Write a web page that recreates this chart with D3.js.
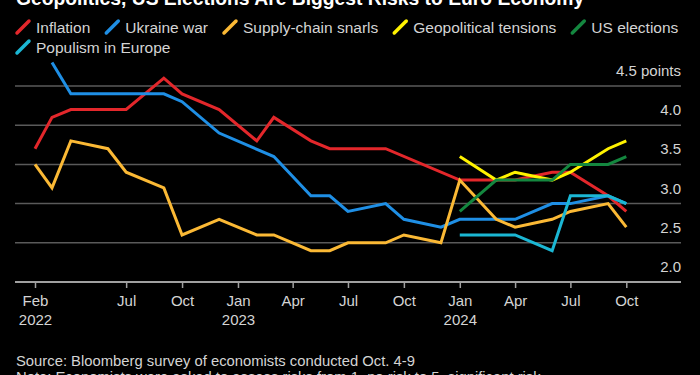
<!DOCTYPE html>
<html>
<head>
<meta charset="utf-8">
<script src="https://cdn.jsdelivr.net/npm/d3@7"></script>
<style>
  html, body { margin: 0; padding: 0; background: #000; }
  svg { display: block; font-family: "Liberation Sans", Arial, Helvetica, sans-serif; }
</style>
</head>
<body>
<div id="graphic"></div>
<script>
// survey months and scores (1 = no risk, 5 = significant risk)
var inflation = [
  ['2022-02', 3.7], ['2022-03', 4.1], ['2022-04', 4.2], ['2022-07', 4.2], ['2022-09', 4.6],
  ['2022-10', 4.4], ['2022-12', 4.2], ['2023-02', 3.8], ['2023-03', 4.1], ['2023-05', 3.8],
  ['2023-06', 3.7], ['2023-09', 3.7], ['2024-01', 3.3], ['2024-04', 3.3], ['2024-06', 3.4],
  ['2024-07', 3.4], ['2024-09', 3.1], ['2024-10', 2.9]
];
var ukraineWar = [
  ['2022-03', 4.8], ['2022-04', 4.4], ['2022-09', 4.4], ['2022-10', 4.3], ['2022-12', 3.9],
  ['2023-03', 3.6], ['2023-05', 3.1], ['2023-06', 3.1], ['2023-07', 2.9], ['2023-09', 3.0],
  ['2023-10', 2.8], ['2023-12', 2.7], ['2024-01', 2.8], ['2024-04', 2.8], ['2024-06', 3.0],
  ['2024-07', 3.0], ['2024-09', 3.1], ['2024-10', 3.0]
];
var supplyChain = [
  ['2022-02', 3.5], ['2022-03', 3.2], ['2022-04', 3.8], ['2022-06', 3.7], ['2022-07', 3.4],
  ['2022-09', 3.2], ['2022-10', 2.6], ['2022-12', 2.8], ['2023-02', 2.6], ['2023-03', 2.6],
  ['2023-05', 2.4], ['2023-06', 2.4], ['2023-07', 2.5], ['2023-09', 2.5], ['2023-10', 2.6],
  ['2023-12', 2.5], ['2024-01', 3.3], ['2024-03', 2.8], ['2024-04', 2.7], ['2024-06', 2.8],
  ['2024-07', 2.9], ['2024-09', 3.0], ['2024-10', 2.7]
];
var geopolitical = [
  ['2024-01', 3.6], ['2024-03', 3.3], ['2024-04', 3.4], ['2024-06', 3.3], ['2024-07', 3.4],
  ['2024-09', 3.7], ['2024-10', 3.8]
];
var usElections = [
  ['2024-01', 2.9], ['2024-03', 3.3], ['2024-04', 3.3], ['2024-06', 3.3], ['2024-07', 3.5],
  ['2024-09', 3.5], ['2024-10', 3.6]
];
var populism = [
  ['2024-01', 2.6], ['2024-04', 2.6], ['2024-06', 2.4], ['2024-07', 3.1], ['2024-09', 3.1],
  ['2024-10', 3.0]
];

var seriesNames = ['Inflation', 'Ukraine war', 'Supply-chain snarls', 'Geopolitical tensions', 'US elections', 'Populism in Europe'];
var seriesValues = [inflation, ukraineWar, supplyChain, geopolitical, usElections, populism];
var colours = ['#e3272b', '#1f8fe5', '#fbb935', '#fff200', '#14873f', '#1bb7d4'];

var yTicks = [2.0, 2.5, 3.0, 3.5, 4.0, 4.5];
var xTicks = ['2022-02', '2022-07', '2022-10', '2023-01', '2023-04', '2023-07', '2023-10', '2024-01', '2024-04', '2024-07', '2024-10'];

var titleText = 'Geopolitics, US Elections Are Biggest Risks to Euro Economy';
var sourceText = 'Source: Bloomberg survey of economists conducted Oct. 4-9';
var noteText = 'Note: Economists were asked to assess risks from 1, no risk to 5, significant risk';

var parseMonth = d3.timeParse('%Y-%m');
var width = 700, height = 375;
var left = 15, right = 681;

var svg = d3.select('#graphic')
  .append('svg')
  .attr('width', width)
  .attr('height', height)
  .style('background-color', '#000');

// title, mostly cropped off the top
svg.append('text')
  .attr('x', 16)
  .attr('y', 5)
  .attr('fill', '#fff')
  .attr('font-size', 19.3)
  .attr('font-weight', 'bold')
  .text(titleText);

// legend, wraps onto a second row
var legend = svg.append('g').attr('class', 'legend');
var lx = 17, ly = 27;
seriesNames.forEach(function (name, i) {
  var item = legend.append('g');
  var label = item.append('text')
    .attr('x', 19)
    .attr('y', 5.5)
    .attr('fill', '#d4d4d4')
    .attr('font-size', 15.5)
    .text(name);
  var w = 19 + label.node().getComputedTextLength();
  if (lx + w > right) {
    lx = 17;
    ly += 20;
  }
  item.attr('transform', 'translate(' + lx + ',' + ly + ')');
  item.append('line')
    .attr('x1', 0).attr('y1', 6)
    .attr('x2', 12).attr('y2', -6)
    .attr('stroke', colours[i])
    .attr('stroke-width', 3.5)
    .attr('stroke-linecap', 'round');
  lx += w + 16;
});

// scales
var x = d3.scaleTime()
  .domain([parseMonth('2022-02'), parseMonth('2024-10')])
  .range([35, 626.3]);

var y = d3.scaleLinear()
  .domain([2, 4.5])
  .range([282, 86]);

// gridlines and y labels
var grid = svg.append('g').attr('class', 'grid');
grid.selectAll('line')
  .data(yTicks.filter(function (d) { return d > 2; }))
  .join('line')
  .attr('x1', left)
  .attr('x2', right)
  .attr('y1', function (d) { return y(d); })
  .attr('y2', function (d) { return y(d); })
  .attr('stroke', '#5a5a5a')
  .attr('stroke-width', 1.5);

grid.selectAll('text')
  .data(yTicks)
  .join('text')
  .attr('x', right)
  .attr('y', function (d) { return y(d) - 10; })
  .attr('text-anchor', 'end')
  .attr('fill', '#d4d4d4')
  .attr('font-size', 15)
  .text(function (d, i) {
    return d3.format('.1f')(d) + (i === yTicks.length - 1 ? ' points' : '');
  });

// x axis
var xAxis = d3.axisBottom(x)
  .tickValues(xTicks.map(parseMonth))
  .tickSize(6)
  .tickPadding(7)
  .tickFormat(d3.timeFormat('%b'));

var axisG = svg.append('g')
  .attr('class', 'x axis')
  .attr('transform', 'translate(0,' + y(2) + ')')
  .call(xAxis);

axisG.select('.domain').remove();
axisG.append('line')
  .attr('x1', left)
  .attr('x2', right)
  .attr('stroke', '#a0a0a0')
  .attr('stroke-width', 2);
axisG.selectAll('.tick line').attr('stroke', '#a0a0a0').attr('stroke-width', 1.5);
axisG.selectAll('.tick text')
  .attr('fill', '#d4d4d4')
  .attr('font-size', 15)
  .attr('font-family', null)
  .each(function (d) {
    if (d.getMonth() === 0 || (d.getFullYear() === 2022 && d.getMonth() === 1)) {
      d3.select(this).append('tspan')
        .attr('x', 0)
        .attr('dy', '1.3em')
        .text(d.getFullYear());
    }
  });

// lines
var line = d3.line()
  .x(function (d) { return x(parseMonth(d[0])); })
  .y(function (d) { return y(d[1]); });

svg.append('g')
  .attr('class', 'lines')
  .selectAll('path')
  .data(seriesValues)
  .join('path')
  .attr('d', line)
  .attr('fill', 'none')
  .attr('stroke', function (d, i) { return colours[i]; })
  .attr('stroke-width', 3)
  .attr('stroke-linejoin', 'miter');

// footer
svg.append('text')
  .attr('x', 16)
  .attr('y', 366)
  .attr('fill', '#d4d4d4')
  .attr('font-size', 14.8)
  .text(sourceText);

svg.append('text')
  .attr('x', 16)
  .attr('y', 382)
  .attr('fill', '#d4d4d4')
  .attr('font-size', 14.8)
  .text(noteText);
</script>
</body>
</html>
